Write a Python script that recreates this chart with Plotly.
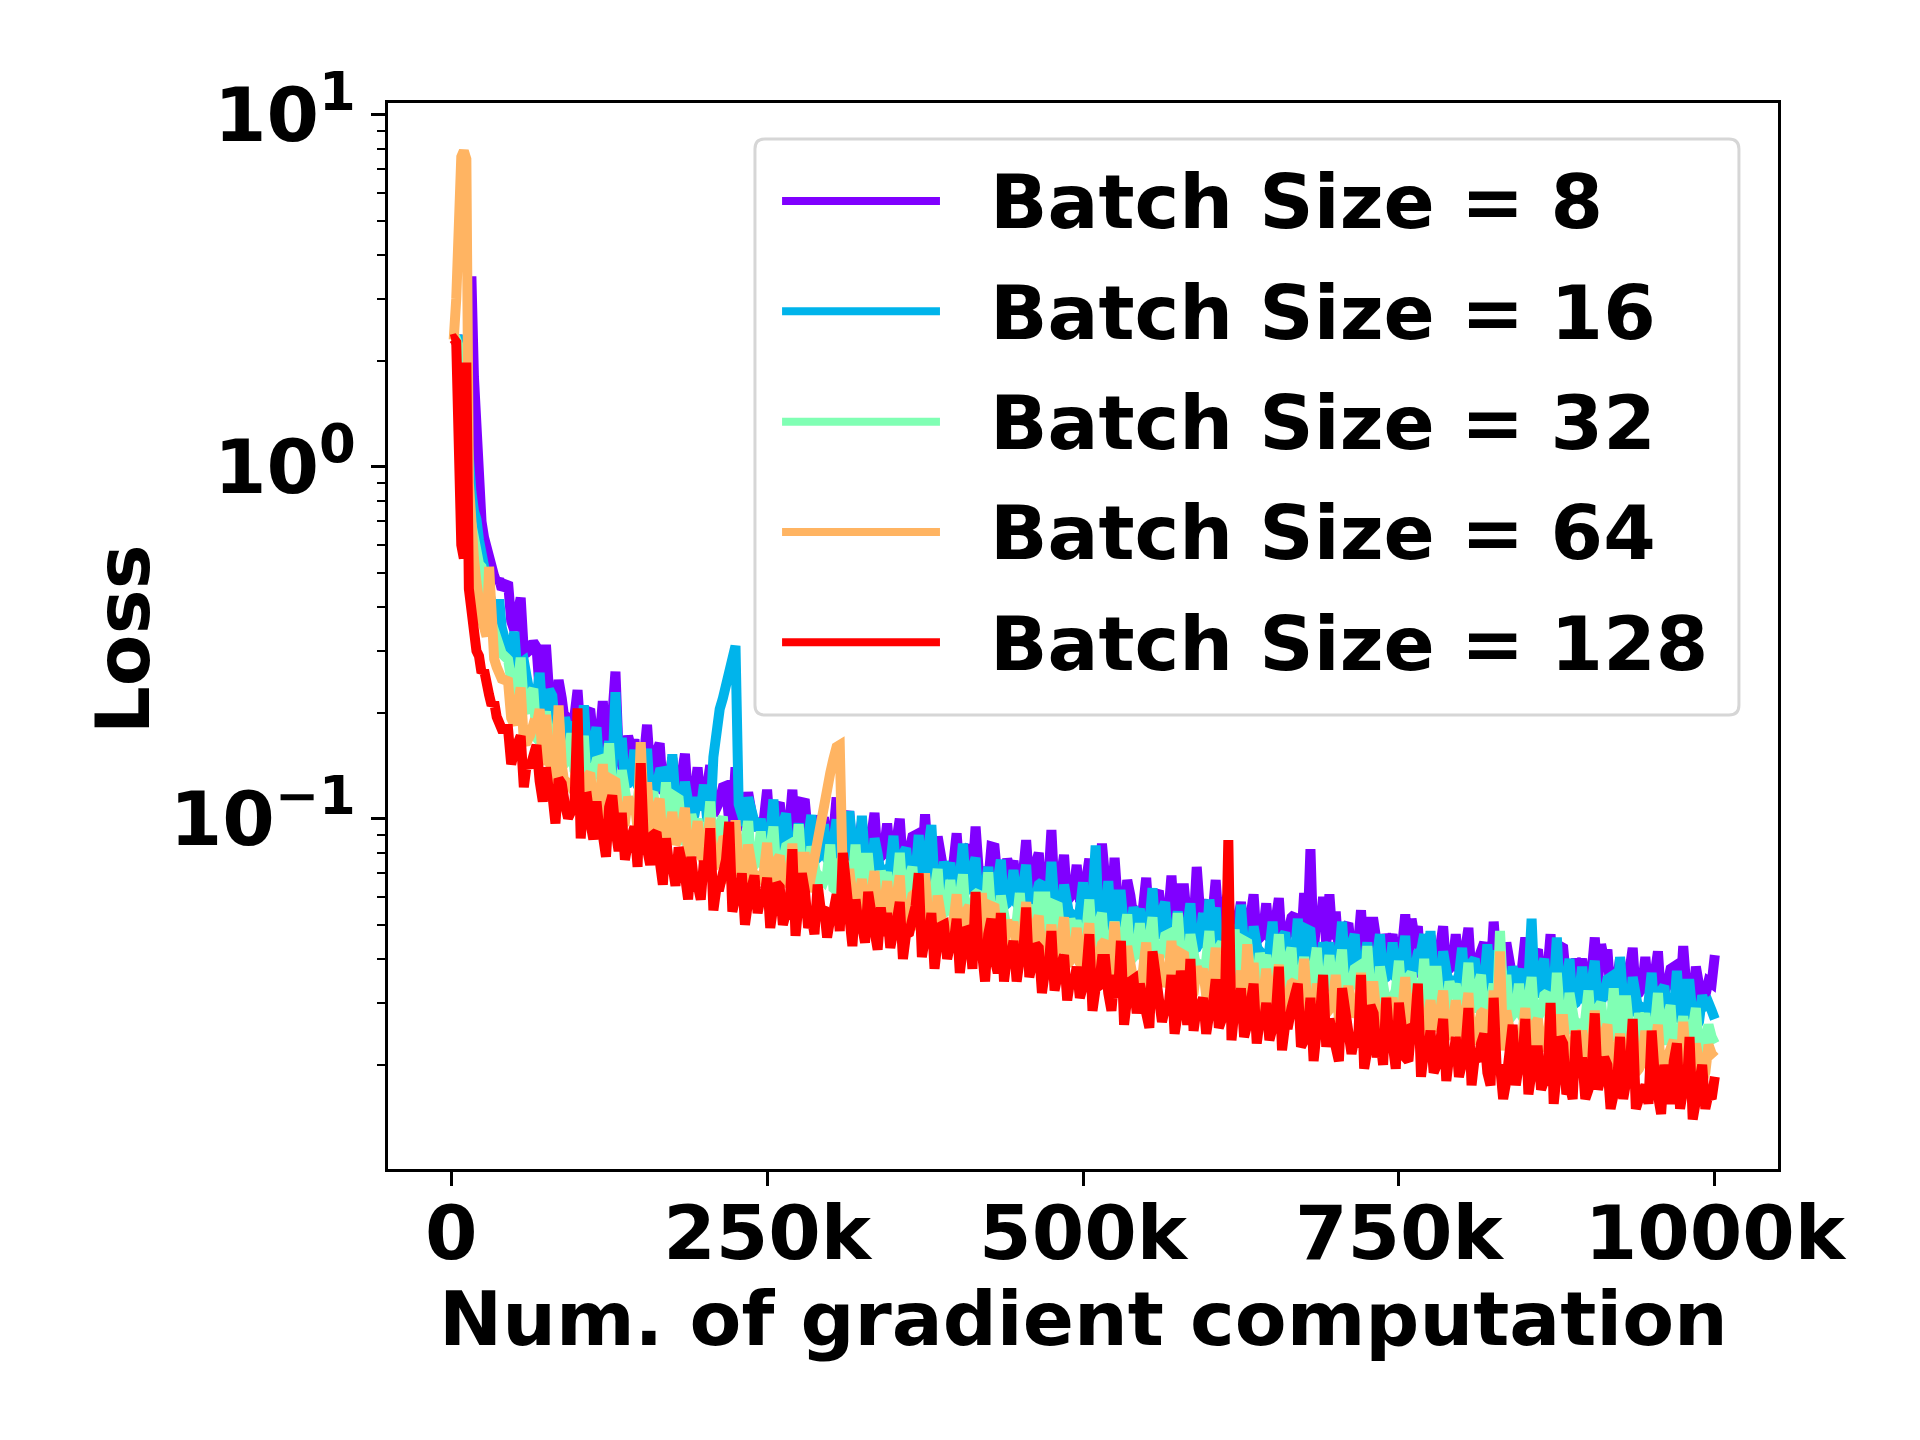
import plotly.graph_objects as go

# Training loss vs. number of gradient computations, one curve per batch size.
# Loss values are stored x1e4 (e.g. 175 -> 0.0175).

BATCH_SIZES = [8, 16, 32, 64, 128]
COLORS = ['#8000ff', '#00b4eb', '#80ffb4', '#ffb462', '#ff0000']

# x grid: every 2k up to 40k, then every 5k (LATE) with the in-between 2.5k points (MID)
X_EARLY = list(range(0, 42000, 2000))
X_LATE = list(range(45000, 1005000, 5000))
X_MID = list(range(47500, 1000000, 5000))

# ---- batch size 8 ----
LOSS_8_EARLY = [23000, 23000, 23000, 23000, 22000, 18000, 12000, 20000, 34800, 18000, 12500,
                9000, 7000, 6300, 5800, 5400, 5100, 4900, 4700, 4800, 4500]
LOSS_8_LATE = [
    4700, 3430, 4250, 2970, 3180, 2320, 3120, 2160, 2480, 1870,
    1870, 2320, 1690, 2050, 1720, 2160, 1550, 2620, 1430, 1720,
    1680, 1360, 1850, 1350, 1640, 1190, 1490, 1260, 1530, 1140,
    1400, 1070, 1420, 1060, 1230, 980, 1400, 1010, 1190, 930,
    950, 1210, 890, 1110, 950, 1210, 880, 1110, 830, 1020,
    1010, 830, 1150, 850, 1050, 770, 980, 840, 1040, 780,
    970, 760, 1000, 760, 890, 710, 1030, 750, 890, 700,
    720, 910, 680, 840, 950, 710, 660, 830, 625, 770,
    760, 630, 870, 650, 800, 590, 930, 640, 790, 600,
    740, 580, 770, 580, 850, 540, 775, 565, 670, 520,
    535, 680, 505, 625, 535, 690, 500, 635, 480, 730,
    590, 480, 670, 500, 615, 455, 580, 495, 610, 460,
    575, 450, 595, 450, 525, 425, 615, 820, 535, 600,
    610, 545, 405, 505, 430, 550, 400, 510, 385, 470,
    470, 385, 535, 520, 495, 365, 465, 400, 495, 375,
    470, 370, 490, 375, 435, 355, 510, 375, 445, 350,
    360, 460, 340, 425, 365, 470, 340, 430, 325, 400,
    400, 330, 460, 440, 425, 315, 400, 345, 430, 320,
    405, 315, 420, 320, 375, 300, 435, 320, 380, 300,
    345, 410]
LOSS_8_MID = [
    3650, 3825, 2970, 3025, 3080, 2290, 2275, 1955, 2200, 1920,
    1950, 1730, 2010, 1670, 1700, 1530, 1950, 1530, 1460, 1590,
    1390, 1495, 1365, 1550, 1205, 1315, 1205, 1340, 1125, 1175,
    1110, 1235, 1025, 1125, 1240, 995, 1045, 930, 1080, 970,
    1000, 910, 1075, 910, 945, 865, 1115, 885, 860, 945,
    840, 915, 850, 980, 780, 860, 795, 895, 765, 815,
    780, 870, 730, 810, 900, 730, 770, 690, 805, 725,
    750, 685, 815, 690, 710, 650, 835, 665, 645, 715,
    635, 695, 650, 745, 595, 655, 610, 685, 585, 620,
    590, 665, 555, 610, 685, 550, 580, 520, 605, 545,
    560, 510, 605, 515, 535, 490, 635, 510, 495, 550,
    490, 535, 500, 575, 455, 505, 470, 525, 450, 480,
    460, 520, 430, 480, 535, 435, 460, 415, 485, 440,
    455, 410, 490, 415, 430, 395, 510, 405, 395, 440,
    390, 430, 400, 460, 365, 410, 380, 430, 370, 390,
    375, 425, 355, 395, 445, 360, 385, 345, 405, 365,
    380, 345, 410, 350, 365, 335, 435, 345, 335, 375,
    335, 365, 340, 395, 315, 350, 325, 370, 315, 335,
    325, 365, 305, 340, 380, 310, 330, 295, 345, 315,
    340]

# ---- batch size 16 ----
LOSS_16_EARLY = [23000, 23000, 23000, 23000, 21000, 16000, 12000, 10000, 8500, 7500, 7100,
                 6200, 5600, 5000, 4700, 4400, 4100, 3900, 3700, 4200, 3500]
LOSS_16_LATE = [
    2970, 3400, 2770, 2500, 2280, 2600, 1890, 2240, 1700, 1940,
    1890, 1520, 2100, 1500, 1820, 1330, 1660, 2290, 1700, 1260,
    1570, 1205, 1580, 1180, 1360, 1075, 1525, 1095, 1275, 985,
    1150, 1250, 980, 1900, 2200, 2600, 3100, 1000, 1150, 980,
    1000, 820, 1135, 835, 1035, 765, 970, 830, 1025, 775,
    965, 750, 995, 755, 1050, 705, 1020, 745, 880, 690,
    705, 895, 660, 825, 700, 900, 650, 960, 615, 755,
    750, 615, 850, 630, 775, 575, 730, 620, 765, 575,
    715, 560, 740, 560, 650, 525, 755, 550, 650, 510,
    520, 660, 490, 840, 520, 665, 485, 610, 460, 560,
    555, 455, 635, 470, 580, 430, 545, 465, 575, 430,
    540, 590, 560, 425, 495, 395, 570, 420, 495, 390,
    400, 510, 380, 475, 405, 520, 380, 480, 365, 445,
    445, 365, 510, 375, 470, 350, 445, 380, 470, 355,
    445, 350, 465, 355, 415, 470, 480, 355, 420, 330,
    340, 430, 320, 400, 345, 440, 320, 410, 310, 380,
    375, 310, 520, 320, 400, 295, 460, 325, 400, 300,
    380, 295, 395, 300, 350, 280, 405, 300, 355, 280,
    285, 365, 270, 335, 290, 370, 270, 340, 255, 315,
    300, 270]
LOSS_16_MID = [
    3020, 2540, 2810, 2240, 2205, 1910, 2330, 1765, 1655, 1785,
    1560, 1675, 1525, 1720, 1345, 1465, 1335, 1480, 1250, 1310,
    1245, 1380, 1140, 1245, 1365, 1085, 1135, 1000, 1145, 1025,
    1060, 1000, 1500, 2050, 2400, 2850, 1100, 960, 1040, 930,
    830, 905, 840, 970, 770, 850, 790, 885, 760, 805,
    770, 865, 725, 800, 890, 720, 760, 685, 795, 715,
    740, 675, 795, 675, 700, 640, 825, 655, 635, 700,
    625, 680, 630, 725, 575, 635, 590, 665, 565, 600,
    575, 645, 540, 595, 660, 535, 565, 505, 590, 530,
    550, 500, 590, 500, 520, 475, 610, 490, 470, 520,
    465, 505, 470, 545, 430, 475, 440, 495, 425, 450,
    430, 485, 405, 450, 500, 405, 430, 385, 450, 410,
    425, 385, 460, 390, 405, 370, 485, 385, 375, 415,
    370, 405, 380, 440, 350, 390, 360, 405, 350, 370,
    355, 405, 340, 375, 420, 340, 360, 325, 380, 345,
    360, 325, 390, 330, 345, 315, 410, 325, 320, 350,
    315, 345, 320, 370, 295, 330, 305, 345, 295, 315,
    305, 340, 285, 320, 355, 290, 305, 275, 320, 290,
    300, 275, 325, 275, 285, 265, 340, 275, 265, 295,
    285]

# ---- batch size 32 ----
LOSS_32_EARLY = [23000, 23000, 23000, 22000, 15000, 10000, 9000, 7500, 6800, 6000, 5600,
                 5300, 5200, 4800, 4600, 4000, 3600, 3400, 3300, 3100, 2950]
LOSS_32_LATE = [
    2835, 2175, 2870, 2000, 2340, 1660, 2020, 1645, 1965, 1440,
    1750, 1320, 1720, 1280, 1460, 1150, 1640, 1180, 1375, 1060,
    1070, 1335, 970, 1190, 1005, 1270, 915, 1140, 850, 1030,
    1000, 815, 1120, 825, 1015, 745, 935, 800, 985, 740,
    920, 715, 950, 715, 835, 670, 965, 705, 835, 655,
    665, 845, 625, 775, 660, 845, 615, 775, 580, 710,
    705, 575, 800, 590, 730, 540, 685, 585, 720, 540,
    670, 525, 695, 525, 610, 490, 705, 515, 605, 475,
    485, 615, 455, 565, 620, 620, 450, 565, 425, 520,
    515, 425, 590, 435, 540, 400, 510, 435, 535, 405,
    505, 395, 525, 395, 465, 375, 540, 395, 470, 370,
    380, 480, 355, 445, 380, 485, 355, 445, 335, 415,
    410, 335, 470, 345, 430, 320, 405, 350, 430, 325,
    410, 320, 425, 320, 375, 300, 435, 320, 380, 300,
    310, 395, 295, 365, 315, 400, 295, 370, 280, 345,
    340, 280, 390, 290, 360, 270, 340, 480, 360, 275,
    340, 265, 355, 270, 315, 255, 365, 270, 320, 250,
    255, 325, 240, 300, 260, 330, 240, 305, 230, 280,
    280, 230, 320, 235, 295, 215, 275, 235, 290, 220,
    260, 230]
LOSS_32_MID = [
    2290, 2350, 2070, 2250, 1700, 1805, 1600, 1730, 1435, 1480,
    1375, 1510, 1240, 1345, 1470, 1165, 1215, 1075, 1235, 1095,
    1115, 995, 1160, 970, 995, 905, 1155, 910, 870, 945,
    830, 900, 830, 950, 750, 825, 760, 855, 725, 765,
    735, 825, 690, 760, 845, 685, 720, 650, 755, 680,
    700, 635, 750, 635, 660, 605, 775, 620, 600, 660,
    585, 640, 595, 685, 540, 600, 555, 625, 530, 560,
    535, 605, 505, 555, 620, 500, 525, 470, 550, 495,
    510, 465, 550, 465, 480, 440, 570, 450, 440, 480,
    430, 470, 435, 505, 400, 445, 415, 465, 395, 420,
    405, 455, 380, 420, 470, 380, 405, 365, 425, 385,
    395, 360, 430, 365, 380, 345, 450, 360, 345, 385,
    340, 375, 350, 400, 320, 355, 330, 375, 320, 340,
    330, 365, 310, 340, 380, 305, 325, 295, 345, 310,
    325, 300, 355, 300, 310, 285, 370, 295, 290, 320,
    285, 310, 290, 335, 270, 300, 280, 315, 270, 285,
    275, 310, 260, 285, 320, 260, 275, 245, 290, 260,
    270, 245, 290, 245, 255, 235, 305, 245, 235, 260,
    230, 255, 235, 275, 220, 240, 225, 255, 220, 235,
    240]

# ---- batch size 64 ----
LOSS_64_EARLY = [23000, 23000, 30000, 55000, 76000, 79000, 75000, 9000, 6500, 5500, 4700,
                 4000, 3700, 3500, 3300, 5200, 3000, 2850, 2700, 2600, 2500]
LOSS_64_LATE = [
    2460, 1850, 2360, 1660, 1855, 2050, 1975, 1380, 2100, 1220,
    1225, 1520, 1100, 1350, 1135, 1430, 1020, 1275, 950, 1155,
    1135, 1650, 1270, 930, 1140, 835, 1045, 885, 1075, 800,
    985, 760, 1005, 750, 870, 690, 990, 720, 845, 660,
    675, 855, 630, 785, 670, 850, 620, 780, 700, 900,
    1100, 1350, 1600, 650, 720, 530, 675, 575, 710, 535,
    665, 520, 690, 520, 605, 485, 700, 510, 605, 470,
    485, 610, 455, 565, 480, 615, 445, 560, 420, 515,
    510, 420, 580, 430, 530, 395, 500, 425, 525, 395,
    490, 380, 505, 380, 440, 355, 510, 370, 435, 345,
    350, 445, 330, 410, 350, 450, 325, 410, 310, 380,
    375, 310, 430, 320, 395, 290, 370, 440, 390, 295,
    375, 290, 385, 290, 340, 275, 400, 285, 340, 270,
    285, 360, 265, 335, 285, 365, 265, 335, 255, 310,
    310, 255, 355, 260, 325, 240, 305, 265, 325, 245,
    305, 240, 320, 240, 280, 225, 325, 420, 285, 225,
    230, 290, 215, 270, 230, 295, 215, 270, 205, 250,
    250, 205, 285, 210, 260, 195, 245, 210, 260, 195,
    250, 195, 260, 195, 230, 185, 265, 195, 230, 180,
    228, 210]
LOSS_64_MID = [
    1935, 2090, 1655, 1730, 1835, 1420, 1450, 1255, 1425, 1255,
    1275, 1130, 1315, 1100, 1120, 1010, 1290, 1015, 975, 1070,
    940, 1020, 935, 1070, 840, 920, 845, 940, 790, 830,
    785, 875, 725, 795, 875, 700, 740, 660, 765, 685,
    710, 640, 760, 645, 665, 605, 780, 620, 800, 1000,
    1230, 1480, 1620, 620, 605, 590, 545, 610, 530, 565,
    535, 600, 500, 550, 615, 495, 525, 470, 545, 490,
    510, 460, 545, 465, 480, 440, 565, 450, 435, 480,
    425, 465, 430, 500, 395, 435, 405, 455, 385, 410,
    390, 440, 365, 405, 450, 360, 380, 340, 395, 355,
    370, 335, 395, 335, 350, 320, 415, 330, 320, 355,
    315, 345, 320, 370, 295, 325, 300, 340, 290, 310,
    300, 335, 280, 310, 345, 280, 295, 265, 310, 280,
    295, 270, 320, 275, 285, 260, 335, 270, 260, 290,
    260, 280, 265, 305, 240, 270, 250, 280, 240, 255,
    245, 275, 230, 255, 285, 230, 245, 220, 255, 235,
    240, 220, 260, 220, 230, 210, 270, 215, 210, 235,
    210, 225, 210, 245, 195, 215, 200, 225, 190, 205,
    200, 225, 190, 210, 235, 190, 200, 180, 210, 190,
    215]

# ---- batch size 128 ----
LOSS_128_EARLY = [23000, 23100, 22600, 9000, 6000, 5500, 19800, 4500, 3800, 3300, 3000,
                  2900, 2600, 2650, 2350, 2250, 2100, 2150, 1950, 1850, 1800]
LOSS_128_LATE = [
    1800, 1550, 1720, 1450, 1520, 1280, 1400, 1180, 1300, 1100,
    1050, 2060, 1150, 980, 1120, 900, 1080, 930, 1040, 860,
    950, 1440, 820, 900, 760, 880, 740, 830, 690, 780,
    650, 760, 940, 640, 720, 980, 600, 700, 580, 690,
    600, 680, 560, 640, 540, 820, 580, 620, 530, 650,
    560, 520, 610, 800, 530, 590, 500, 620, 490, 560,
    540, 480, 580, 470, 520, 700, 460, 540, 450, 500,
    440, 520, 430, 480, 620, 420, 470, 400, 540, 410,
    450, 400, 560, 390, 430, 370, 480, 360, 410, 350,
    380, 340, 470, 330, 400, 320, 360, 450, 310, 350,
    340, 300, 420, 310, 290, 360, 280, 330, 400, 290,
    310, 280, 350, 270, 870, 290, 330, 260, 340, 270,
    300, 250, 380, 260, 290, 340, 240, 310, 250, 360,
    270, 230, 330, 250, 240, 360, 220, 280, 240, 310,
    230, 300, 210, 260, 340, 220, 250, 200, 270, 215,
    240, 200, 290, 210, 230, 190, 310, 200, 180, 260,
    200, 270, 190, 220, 180, 300, 190, 230, 175, 250,
    210, 170, 280, 185, 200, 165, 240, 180, 270, 160,
    175, 250, 160, 200, 155, 230, 170, 240, 160, 200,
    165, 185]
LOSS_128_MID = [
    1430, 1620, 1230, 1400, 1620, 1120, 1190, 970, 1260, 1005,
    1075, 880, 1155, 875, 910, 780, 1165, 810, 765, 885,
    730, 850, 740, 915, 650, 735, 645, 765, 590, 645,
    590, 695, 550, 640, 765, 545, 595, 500, 665, 540,
    590, 490, 655, 500, 535, 465, 700, 490, 470, 550,
    460, 545, 480, 600, 435, 500, 445, 540, 425, 465,
    430, 510, 400, 475, 565, 405, 445, 375, 495, 400,
    440, 365, 490, 375, 400, 345, 520, 365, 345, 405,
    345, 405, 355, 440, 320, 365, 325, 390, 305, 335,
    310, 360, 285, 335, 400, 285, 310, 260, 345, 280,
    310, 255, 345, 265, 285, 245, 370, 260, 250, 290,
    245, 290, 255, 320, 235, 270, 240, 290, 230, 255,
    235, 275, 220, 260, 310, 225, 245, 205, 275, 225,
    245, 205, 275, 215, 225, 195, 295, 210, 200, 235,
    195, 230, 205, 255, 185, 215, 190, 230, 180, 200,
    185, 220, 175, 205, 245, 175, 190, 160, 215, 175,
    200, 165, 220, 170, 180, 155, 240, 165, 160, 190,
    160, 190, 170, 210, 150, 175, 160, 190, 150, 165,
    155, 185, 145, 170, 205, 150, 165, 140, 185, 150,
    160]

SERIES = [
    (LOSS_8_EARLY, LOSS_8_LATE, LOSS_8_MID),
    (LOSS_16_EARLY, LOSS_16_LATE, LOSS_16_MID),
    (LOSS_32_EARLY, LOSS_32_LATE, LOSS_32_MID),
    (LOSS_64_EARLY, LOSS_64_LATE, LOSS_64_MID),
    (LOSS_128_EARLY, LOSS_128_LATE, LOSS_128_MID),
]

X_TICKS = [0, 250000, 500000, 750000, 1000000]
X_TICK_LABELS = ['0', '250k', '500k', '750k', '1000k']
Y_TICKS = [0.1, 1, 10]
Y_TICK_LABELS = ['10<sup>\u22121</sup>', '10<sup>0</sup>', '10<sup>1</sup>']
Y_MINOR = [m * d for d in (0.01, 0.1, 1) for m in range(2, 10)]

FONT = dict(family='DejaVu Sans', size=75.5, color='black', weight='bold')

fig = go.Figure()

for bs, color, (early, late, mid) in zip(BATCH_SIZES, COLORS, SERIES):
    assert len(early) == len(X_EARLY) and len(late) == len(X_LATE) and len(mid) == len(X_MID), bs
    tail = sorted(zip(X_LATE + X_MID, late + mid))
    xs = X_EARLY + [p[0] for p in tail]
    ys = early + [p[1] for p in tail]
    fig.add_trace(go.Scatter(
        x=xs,
        y=[v / 1e4 for v in ys],
        mode='lines',
        name=f'Batch Size = {bs}',
        line=dict(color=color, width=10),
        showlegend=False,
    ))

fig.update_layout(
    width=1920, height=1440,
    margin=dict(l=388, r=142, t=103, b=271),
    paper_bgcolor='white',
    plot_bgcolor='white',
    font=FONT,
)

fig.update_xaxes(
    range=[-50000, 1050000],
    tickmode='array', tickvals=X_TICKS, ticktext=X_TICK_LABELS,
    ticks='outside', ticklen=14, tickwidth=3, tickcolor='black',
    ticklabelstandoff=-18,
    showline=True, linewidth=3, linecolor='black', mirror=True,
    showgrid=False, zeroline=False,
    tickfont=FONT,
)
fig.update_yaxes(
    type='log',
    range=[-1.995, 1.034],
    tickmode='array', tickvals=Y_TICKS, ticktext=Y_TICK_LABELS,
    ticks='outside', ticklen=14, tickwidth=3, tickcolor='black',
    minor=dict(tickmode='array', tickvals=Y_MINOR, ticks='outside',
               ticklen=8, tickwidth=2, tickcolor='black', showgrid=False),
    showline=True, linewidth=3, linecolor='black', mirror=True,
    showgrid=False, zeroline=False,
    tickfont=FONT,
)

# axis titles
fig.add_annotation(text='Num. of gradient computation', xref='paper', yref='paper',
                   x=0.5, y=-0.141, xanchor='center', yanchor='middle',
                   showarrow=False, font=FONT)
fig.add_annotation(text='Loss', xref='paper', yref='paper',
                   x=-0.1906, y=0.497, xanchor='center', yanchor='middle',
                   textangle=-90, showarrow=False, font=FONT)

# legend drawn by hand so the line samples are as long as in the original
bx0, bx1, by0, by1 = 0.2640, 0.9719, 0.4259, 0.9662
rx, ry = 0.0072, 0.0094
box_path = (f'M {bx0 + rx},{by0} L {bx1 - rx},{by0} Q {bx1},{by0} {bx1},{by0 + ry} '
            f'L {bx1},{by1 - ry} Q {bx1},{by1} {bx1 - rx},{by1} '
            f'L {bx0 + rx},{by1} Q {bx0},{by1} {bx0},{by1 - ry} '
            f'L {bx0},{by0 + ry} Q {bx0},{by0} {bx0 + rx},{by0} Z')
fig.add_shape(type='path', path=box_path, xref='paper', yref='paper',
              fillcolor='rgba(255,255,255,0.8)', line=dict(color='#d6d6d6', width=3),
              layer='above')

row_top, row_step = 0.9081, 0.1035
for i, (bs, color) in enumerate(zip(BATCH_SIZES, COLORS)):
    yy = row_top - i * row_step
    fig.add_shape(type='line', xref='paper', yref='paper',
                  x0=0.2835, x1=0.3971, y0=yy, y1=yy,
                  line=dict(color=color, width=8), layer='above')
    fig.add_annotation(text=f'Batch Size = {bs}', xref='paper', yref='paper',
                       x=0.4317, y=yy - 0.0014, xanchor='left', yanchor='middle',
                       showarrow=False, font=FONT)

# the page body has an 8px default margin; drop it so the figure sits at (0, 0)
fig.write_html('out.html', config={'displayModeBar': False},
               post_script="document.body.style.margin='0px';")
